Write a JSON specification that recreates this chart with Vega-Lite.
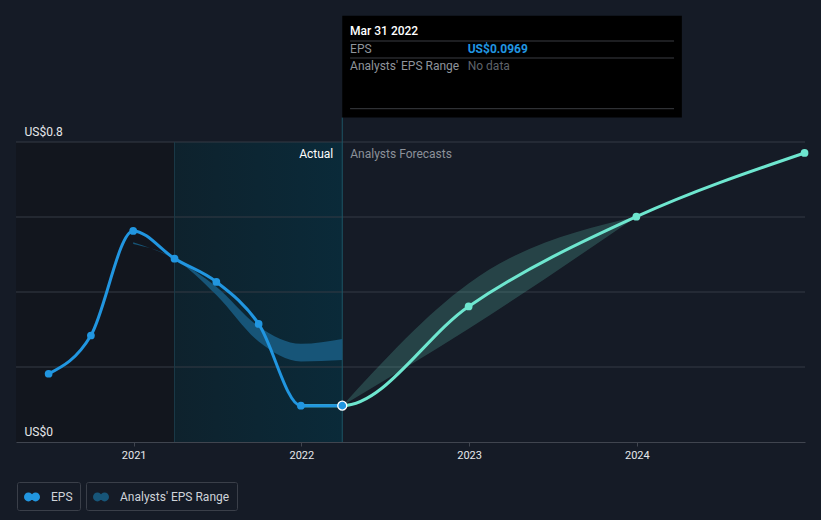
{
  "$schema": "https://vega.github.io/schema/vega-lite/v6.json",
  "width": 789,
  "height": 300,
  "autosize": {"type": "none"},
  "padding": {"left": 16, "top": 142, "right": 16, "bottom": 78},
  "background": "#151b26",
  "config": {
    "font": "Roboto",
    "view": {"stroke": null},
    "legend": {
      "title": null,
      "orient": "none",
      "padding": 7,
      "strokeColor": "#3a3f49",
      "cornerRadius": 2,
      "labelFont": "Roboto",
      "labelFontSize": 12,
      "labelColor": "#cfd3d9",
      "labelOffset": 11,
      "symbolType": "M -1 0 A 0.55 0.55 0 1 0 0.1 0 A 0.55 0.55 0 1 0 -1 0 Z M -0.1 0 A 0.55 0.55 0 1 0 1 0 A 0.55 0.55 0 1 0 -0.1 0 Z",
      "symbolSize": 256,
      "symbolStrokeWidth": 0,
      "symbolOpacity": 1
    }
  },
  "datasets": {
    "regions": [
      {"start": "2020-04-20", "end": "2021-03-31", "zone": "past"},
      {"start": "2021-03-31", "end": "2022-03-31", "zone": "recent"}
    ],
    "grid": [
      {"level": 0.2}, {"level": 0.4}, {"level": 0.6}, {"level": 0.8}
    ],
    "actual": [
      {"date": "2020-06-30", "eps": 0.182},
      {"date": "2020-09-30", "eps": 0.284},
      {"date": "2020-12-31", "eps": 0.563},
      {"date": "2021-03-31", "eps": 0.489},
      {"date": "2021-06-30", "eps": 0.427},
      {"date": "2021-09-30", "eps": 0.315},
      {"date": "2021-12-31", "eps": 0.0968},
      {"date": "2022-03-31", "eps": 0.0969}
    ],
    "forecast": [
      {"date": "2021-12-31", "eps": 0.0968},
      {"date": "2022-03-31", "eps": 0.0969},
      {"date": "2022-12-31", "eps": 0.3616},
      {"date": "2023-12-31", "eps": 0.6008},
      {"date": "2024-12-31", "eps": 0.7707}
    ],
    "band": [
      {"date": "2020-12-31", "low": 0.528, "high": 0.533, "period": "hist"},
      {"date": "2021-03-31", "low": 0.489, "high": 0.489, "period": "hist"},
      {"date": "2021-06-30", "low": 0.392, "high": 0.414, "period": "hist"},
      {"date": "2021-09-30", "low": 0.268, "high": 0.308, "period": "hist"},
      {"date": "2021-12-31", "low": 0.215, "high": 0.262, "period": "hist"},
      {"date": "2022-03-31", "low": 0.219, "high": 0.275, "period": "hist"},
      {"date": "2022-03-31", "low": 0.0969, "high": 0.0969, "period": "fc"},
      {"date": "2022-12-31", "low": 0.302, "high": 0.423, "period": "fc"},
      {"date": "2023-12-31", "low": 0.6008, "high": 0.6008, "period": "fc"}
    ],
    "tipbox": [
      {"start": "2022-03-31", "end": "2024-04-08", "bottom": 0.8656, "top": 1.1368, "base": 0, "plottop": 0.8}
    ],
    "tiplines": [
      {"start": "2022-04-17", "end": "2024-03-22", "level": 1.0693},
      {"start": "2022-04-17", "end": "2024-03-22", "level": 1.024},
      {"start": "2022-04-17", "end": "2024-03-22", "level": 0.8888}
    ],
    "tiptext": [
      {"date": "2022-04-17", "level": 1.0968, "text": "Mar 31 2022", "role": "title"},
      {"date": "2022-04-17", "level": 1.048, "text": "EPS", "role": "label"},
      {"date": "2022-04-17", "level": 1.0035, "text": "Analysts' EPS Range", "role": "label"},
      {"date": "2022-12-29", "level": 1.048, "text": "US$0.0969", "role": "value"},
      {"date": "2022-12-29", "level": 1.0035, "text": "No data", "role": "nodata"}
    ]
  },
  "layer": [
    {
      "data": {"name": "regions"},
      "transform": [{"filter": "datum.zone == 'past'"}, {"calculate": "0", "as": "y0"}, {"calculate": "0.8", "as": "y1"}],
      "mark": {"type": "rect", "color": "#12161e"},
      "encoding": {
        "x": {"field": "start", "type": "temporal"},
        "x2": {"field": "end"},
        "y": {"field": "y0", "type": "quantitative"},
        "y2": {"field": "y1"}
      }
    },
    {
      "data": {"name": "regions"},
      "transform": [{"filter": "datum.zone == 'recent'"}, {"calculate": "0", "as": "y0"}, {"calculate": "0.8", "as": "y1"}],
      "mark": {"type": "rect", "color": {"gradient": "linear", "x1": 0, "x2": 1, "y1": 0, "y2": 0,
        "stops": [{"offset": 0, "color": "#0e222d"}, {"offset": 1, "color": "#0a2a39"}]}},
      "encoding": {
        "x": {"field": "start", "type": "temporal"},
        "x2": {"field": "end"},
        "y": {"field": "y0", "type": "quantitative"},
        "y2": {"field": "y1"}
      }
    },
    {
      "data": {"name": "grid"},
      "mark": {"type": "rule", "color": "#343a45", "strokeWidth": 1},
      "encoding": {
        "y": {"field": "level", "type": "quantitative"}
      }
    },
    {
      "data": {"name": "regions"},
      "transform": [{"filter": "datum.zone == 'recent'"}, {"calculate": "0", "as": "y0"}, {"calculate": "0.8", "as": "y1"}],
      "mark": {"type": "rule", "color": "#1b3a48", "strokeWidth": 1},
      "encoding": {
        "x": {"field": "start", "type": "temporal"},
        "y": {"field": "y0", "type": "quantitative"},
        "y2": {"field": "y1"}
      }
    },
    {
      "data": {"name": "tipbox"},
      "mark": {"type": "rule", "color": "#1d5566", "strokeWidth": 1},
      "encoding": {
        "x": {"field": "start", "type": "temporal"},
        "y": {"field": "base", "type": "quantitative"},
        "y2": {"field": "bottom"}
      }
    },
    {
      "data": {"name": "band"},
      "transform": [{"filter": "datum.period == 'hist'"}],
      "mark": {"type": "area", "interpolate": "monotone"},
      "encoding": {
        "x": {"field": "date", "type": "temporal"},
        "y": {"field": "low", "type": "quantitative"},
        "y2": {"field": "high"},
        "fill": {"datum": "Analysts' EPS Range", "type": "nominal", "scale": {"range": ["#175578"]},
          "legend": {"legendX": 70, "legendY": 340}}
      }
    },
    {
      "data": {"name": "band"},
      "transform": [{"filter": "datum.period == 'fc'"}],
      "mark": {"type": "area", "interpolate": "monotone", "color": "#6ee6cf", "opacity": 0.2},
      "encoding": {
        "x": {"field": "date", "type": "temporal"},
        "y": {"field": "low", "type": "quantitative"},
        "y2": {"field": "high"}
      }
    },
    {
      "data": {"name": "forecast"},
      "mark": {"type": "line", "interpolate": "monotone", "color": "#6ee6cf", "strokeWidth": 3},
      "encoding": {
        "x": {"field": "date", "type": "temporal"},
        "y": {"field": "eps", "type": "quantitative"}
      }
    },
    {
      "data": {"name": "actual"},
      "mark": {"type": "line", "interpolate": "monotone", "color": "#2196e0", "strokeWidth": 3},
      "encoding": {
        "x": {"field": "date", "type": "temporal",
          "scale": {"domain": ["2020-04-20", "2025-01-01"], "nice": false},
          "axis": {
            "values": ["2021-01-01", "2022-01-01", "2023-01-01", "2024-01-01"],
            "format": "%Y", "title": null, "grid": false, "zindex": 1,
            "domainColor": "#40454f", "tickColor": "#40454f", "tickSize": 4,
            "labelColor": "#e6e8eb", "labelFontSize": 11, "labelPadding": 3,
            "labelFont": "Roboto"
          }},
        "y": {"field": "eps", "type": "quantitative",
          "scale": {"domain": [0, 0.8], "nice": false, "zero": false},
          "axis": {
            "values": [0, 0.8],
            "format": ".1~f",
            "labelExpr": "'US$' + datum.label",
            "title": null, "domain": false, "ticks": false, "grid": false, "zindex": 1,
            "labelAlign": "left", "labelBaseline": "bottom", "labelPadding": -8,
            "labelOffset": -4, "labelOverlap": false, "labelFlush": false,
            "labelColor": "#e6e8eb", "labelFontSize": 12, "labelFont": "Roboto"
          }}
      }
    },
    {
      "data": {"name": "forecast"},
      "transform": [{"filter": "datum.eps > 0.2"}],
      "mark": {"type": "point", "filled": true, "opacity": 1, "size": 60, "color": "#6ee6cf"},
      "encoding": {
        "x": {"field": "date", "type": "temporal"},
        "y": {"field": "eps", "type": "quantitative"}
      }
    },
    {
      "data": {"name": "actual"},
      "transform": [{"filter": "datum.eps != 0.0969"}],
      "mark": {"type": "point", "filled": true, "opacity": 1, "size": 60},
      "encoding": {
        "x": {"field": "date", "type": "temporal"},
        "y": {"field": "eps", "type": "quantitative"},
        "color": {"datum": "EPS", "type": "nominal", "scale": {"range": ["#2196e0"]},
          "legend": {"legendX": 1, "legendY": 340}}
      }
    },
    {
      "data": {"name": "actual"},
      "transform": [{"filter": "datum.eps == 0.0969"}],
      "mark": {"type": "point", "filled": true, "opacity": 1, "size": 80, "fill": "#2196e0", "stroke": "#ffffff", "strokeWidth": 1.3},
      "encoding": {
        "x": {"field": "date", "type": "temporal"},
        "y": {"field": "eps", "type": "quantitative"}
      }
    },
    {
      "data": {"name": "tipbox"},
      "mark": {"type": "text", "text": "Actual", "align": "right", "baseline": "middle", "dx": -9, "dy": 12, "fontSize": 12, "color": "#ffffff"},
      "encoding": {
        "x": {"field": "start", "type": "temporal"},
        "y": {"field": "plottop", "type": "quantitative"}
      }
    },
    {
      "data": {"name": "tipbox"},
      "mark": {"type": "text", "text": "Analysts Forecasts", "align": "left", "baseline": "middle", "dx": 8, "dy": 12, "fontSize": 12, "color": "#8c9199"},
      "encoding": {
        "x": {"field": "start", "type": "temporal"},
        "y": {"field": "plottop", "type": "quantitative"}
      }
    },
    {
      "data": {"name": "tipbox"},
      "mark": {"type": "rect", "color": "#000000"},
      "encoding": {
        "x": {"field": "start", "type": "temporal"},
        "x2": {"field": "end"},
        "y": {"field": "bottom", "type": "quantitative"},
        "y2": {"field": "top"}
      }
    },
    {
      "data": {"name": "tiplines"},
      "mark": {"type": "rule", "color": "#3a3d42", "strokeWidth": 1},
      "encoding": {
        "x": {"field": "start", "type": "temporal"},
        "x2": {"field": "end"},
        "y": {"field": "level", "type": "quantitative"}
      }
    },
    {
      "data": {"name": "tiptext"},
      "transform": [{"filter": "datum.role == 'title'"}],
      "mark": {"type": "text", "align": "left", "baseline": "middle", "fontSize": 12, "fontWeight": 500, "color": "#ffffff"},
      "encoding": {
        "x": {"field": "date", "type": "temporal"},
        "y": {"field": "level", "type": "quantitative"},
        "text": {"field": "text"}
      }
    },
    {
      "data": {"name": "tiptext"},
      "transform": [{"filter": "datum.role == 'label'"}],
      "mark": {"type": "text", "align": "left", "baseline": "middle", "fontSize": 12, "color": "#8f949b"},
      "encoding": {
        "x": {"field": "date", "type": "temporal"},
        "y": {"field": "level", "type": "quantitative"},
        "text": {"field": "text"}
      }
    },
    {
      "data": {"name": "tiptext"},
      "transform": [{"filter": "datum.role == 'value'"}],
      "mark": {"type": "text", "align": "left", "baseline": "middle", "fontSize": 12, "fontWeight": "bold", "color": "#2196e0"},
      "encoding": {
        "x": {"field": "date", "type": "temporal"},
        "y": {"field": "level", "type": "quantitative"},
        "text": {"field": "text"}
      }
    },
    {
      "data": {"name": "tiptext"},
      "transform": [{"filter": "datum.role == 'nodata'"}],
      "mark": {"type": "text", "align": "left", "baseline": "middle", "fontSize": 12, "color": "#5f636a"},
      "encoding": {
        "x": {"field": "date", "type": "temporal"},
        "y": {"field": "level", "type": "quantitative"},
        "text": {"field": "text"}
      }
    }
  ]
}
